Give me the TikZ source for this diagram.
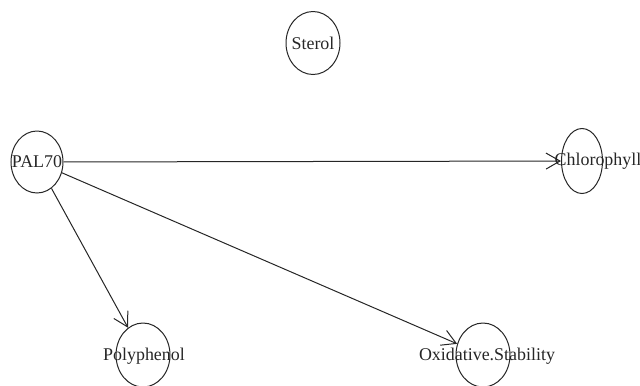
\documentclass[tikz,border=0pt]{standalone}
\usepackage{fontspec}
\setmainfont{Liberation Serif}
\usetikzlibrary{shapes.geometric,arrows.meta}
\begin{document}
\begin{tikzpicture}[x=1bp,y=-1bp,
  vnode/.style={draw=black!85, line width=1bp, ellipse, inner sep=0pt,
    minimum width=54bp, minimum height=63bp},
  vlab/.style={text=black!85, font=\fontsize{18}{20}\selectfont},
  edge/.style={draw=black!85, line width=1bp, -{Straight Barb[length=14bp,width=16bp,line width=1bp]}}]
\useasboundingbox (0,0) rectangle (640,385);
\node[vnode] (sterol) at (313,43) {};
\node[vlab] (sterolt) at (sterol.center) {Sterol};
\node[vnode, minimum width=52bp, minimum height=62bp] (pal) at (37,162) {};
\node[vlab] (palt) at (pal.center) {PAL70};
\node[vnode, minimum width=41bp, minimum height=65bp] (chl) at (582,161) {};
\node[vlab] (chlt) at (598,161) {Chlorophyll};
\node[vnode, minimum height=64bp] (poly) at (143,355) {};
\node[vlab] (polyt) at (144,356) {Polyphenol};
\node[vnode, minimum height=64bp] (oxi) at (483,355) {};
\node[vlab] (oxit) at (487,356) {Oxidative.Stability};
\draw[edge] (pal) -- (chl);
\draw[edge] (pal) -- (poly);
\draw[edge] (pal) -- (oxi);
\end{tikzpicture}
\end{document}
